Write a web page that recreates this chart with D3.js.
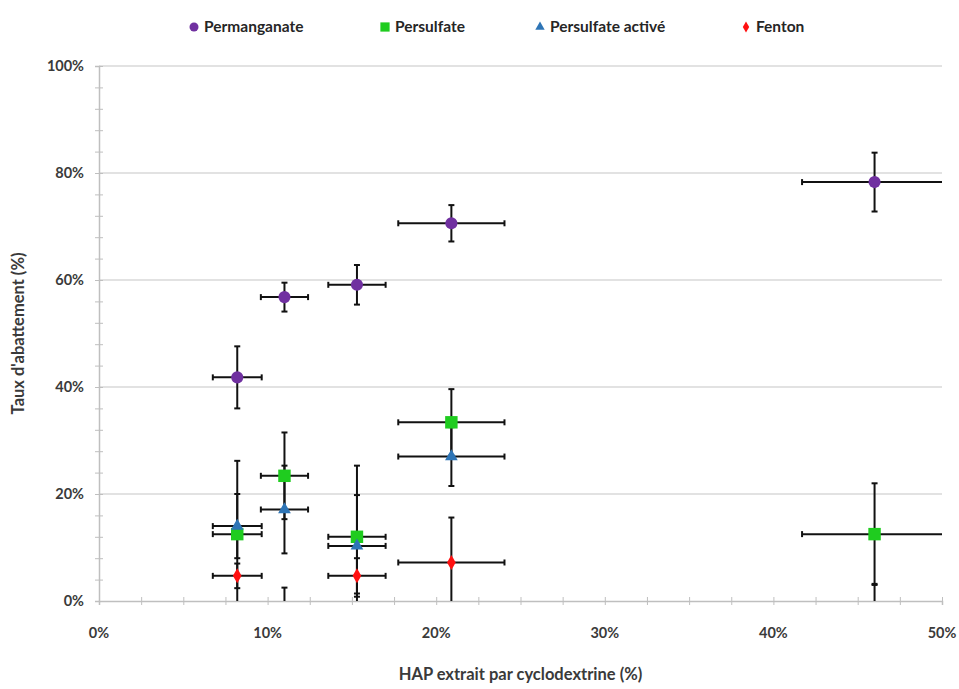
<!DOCTYPE html>
<html>
<head>
<meta charset="utf-8">
<script src="https://cdn.jsdelivr.net/npm/d3@7"></script>
<style>
	body { margin: 0; background: #fff; }
	text { font-family: Lato, "Open Sans", sans-serif; }
</style>
</head>
<body>
<div id="chart"></div>
<script>
// HAP extracted by cyclodextrin (%) and its error
const hapX = [8.2, 11.0, 15.3, 20.9, 46.0];
const hapXErr = [1.45, 1.4, 1.7, 3.15, 4.3];

// abatement rate (%) per oxidant, with error
const permanganate = [41.8, 56.8, 59.1, 70.6, 78.3];
const permanganateErr = [5.8, 2.7, 3.7, 3.4, 5.5];
const persulfate = [12.5, 23.4, 12.0, 33.4, 12.5];
const persulfateErr = [13.7, 8.1, 13.3, 6.2, 9.5];
const persulfateActive = [14.0, 17.1, 10.3, 27.0, null];
const persulfateActiveErr = [6.0, 8.2, 9.5, 5.5, null];
const fenton = [4.7, -2.0, 4.7, 7.2, -2.0];
const fentonErr = [2.3, 4.5, 3.3, 8.4, 5.2];

const seriesNames = ['Permanganate', 'Persulfate', 'Persulfate activé', 'Fenton'];
const xTicks = [0, 10, 20, 30, 40, 50];
const yTicks = [0, 20, 40, 60, 80, 100];

const width = 959, height = 689;
const margin = { left: 99, right: 17, top: 66, bottom: 88 };

let series = [
	{ name: seriesNames[0], values: permanganate, err: permanganateErr, color: '#7030a0', shape: d3.symbolCircle, size: 115 },
	{ name: seriesNames[1], values: persulfate, err: persulfateErr, color: '#1fcc1f', shape: d3.symbolSquare, size: 155 },
	{ name: seriesNames[2], values: persulfateActive, err: persulfateActiveErr, color: '#2e75b6', shape: d3.symbolTriangle, size: 70 },
	{ name: seriesNames[3], values: fenton, err: fentonErr, color: '#ff1010', shape: d3.symbolDiamond, size: 65 }
];

let svg = d3.select('#chart').append('svg')
	.attr('width', width)
	.attr('height', height);

let x = d3.scaleLinear().domain([0, 50]).range([margin.left, width - margin.right]);
let y = d3.scaleLinear().domain([0, 100]).range([height - margin.bottom, margin.top]);

svg.append('defs').append('clipPath').attr('id', 'plot')
	.append('rect')
	.attr('x', x(0)).attr('y', y(100))
	.attr('width', x(50) - x(0)).attr('height', y(0) - y(100));

// gridlines
svg.append('g').selectAll('line')
	.data(yTicks.filter(d => d > 0))
	.enter().append('line')
	.attr('x1', x(0)).attr('x2', x(50))
	.attr('y1', d => y(d)).attr('y2', d => y(d))
	.attr('stroke', '#d9d9d9')
	.attr('stroke-width', 1.5);

// axes
let xAxis = svg.append('g')
	.attr('transform', 'translate(0,' + y(0) + ')')
	.call(d3.axisBottom(x).tickValues(d3.range(0, 50.1, 2.5)).tickSize(4).tickFormat(''));
xAxis.selectAll('.tick line').attr('y1', -4).attr('stroke', '#bfbfbf');
xAxis.select('.domain').attr('stroke', '#bfbfbf').attr('stroke-width', 1.5);

let yAxis = svg.append('g')
	.attr('transform', 'translate(' + x(0) + ',0)')
	.call(d3.axisLeft(y).tickValues(d3.range(0, 100.1, 4)).tickSize(4).tickFormat(''));
yAxis.selectAll('.tick line').attr('x1', 4).attr('stroke', '#bfbfbf');
yAxis.select('.domain').attr('stroke', '#bfbfbf').attr('stroke-width', 1.5);

svg.append('g').selectAll('text')
	.data(xTicks)
	.enter().append('text')
	.attr('x', d => x(d))
	.attr('y', 638)
	.attr('text-anchor', 'middle')
	.attr('font-size', 14.5)
	.attr('font-weight', 'bold')
	.attr('fill', '#3a3a3a')
	.text(d => d + '%');

svg.append('g').selectAll('text')
	.data(yTicks)
	.enter().append('text')
	.attr('x', 84)
	.attr('y', d => y(d) + 5)
	.attr('text-anchor', 'end')
	.attr('font-size', 14.5)
	.attr('font-weight', 'bold')
	.attr('fill', '#3a3a3a')
	.text(d => d + '%');

svg.append('text')
	.attr('x', x(25))
	.attr('y', 680)
	.attr('text-anchor', 'middle')
	.attr('font-size', 16.5)
	.attr('font-weight', 'bold')
	.attr('fill', '#3a3a3a')
	.text('HAP extrait par cyclodextrine (%)');

svg.append('text')
	.attr('transform', 'translate(24,' + y(50) + ') rotate(-90)')
	.attr('text-anchor', 'middle')
	.attr('font-size', 16.5)
	.attr('font-weight', 'bold')
	.attr('fill', '#3a3a3a')
	.text("Taux d'abattement (%)");

// error bars
let bars = svg.append('g').attr('clip-path', 'url(#plot)');
let cap = 3;
series.forEach(s => {
	let pts = hapX.map((hx, i) => ({ x: hx, xe: hapXErr[i], y: s.values[i], ye: s.err[i] }))
		.filter(p => p.y != null);
	pts.forEach(p => {
		let g = bars.append('g').attr('stroke', '#111').attr('stroke-width', 2);
		g.append('line')
			.attr('x1', x(p.x)).attr('x2', x(p.x))
			.attr('y1', y(p.y - p.ye)).attr('y2', y(p.y + p.ye));
		g.append('line')
			.attr('x1', x(p.x - p.xe)).attr('x2', x(p.x + p.xe))
			.attr('y1', y(p.y)).attr('y2', y(p.y));
		[p.y - p.ye, p.y + p.ye].forEach(v => {
			g.append('line')
				.attr('x1', x(p.x) - cap).attr('x2', x(p.x) + cap)
				.attr('y1', y(v)).attr('y2', y(v));
		});
		[p.x - p.xe, p.x + p.xe].forEach(v => {
			g.append('line')
				.attr('x1', x(v)).attr('x2', x(v))
				.attr('y1', y(p.y) - cap).attr('y2', y(p.y) + cap);
		});
	});
});

// markers
let marks = svg.append('g').attr('clip-path', 'url(#plot)');
series.forEach(s => {
	let pts = hapX.map((hx, i) => ({ x: hx, y: s.values[i] })).filter(p => p.y != null);
	marks.append('g').selectAll('path')
		.data(pts)
		.enter().append('path')
		.attr('d', d3.symbol().type(s.shape).size(s.size))
		.attr('transform', d => 'translate(' + x(d.x) + ',' + y(d.y) + ')')
		.attr('fill', s.color);
});

// legend
let legendX = [194, 385, 540, 746];
let legend = svg.append('g');
series.forEach((s, i) => {
	legend.append('path')
		.attr('d', d3.symbol().type(s.shape).size(s.size * 0.55))
		.attr('transform', 'translate(' + legendX[i] + ',27)')
		.attr('fill', s.color);
	legend.append('text')
		.attr('x', legendX[i] + 10)
		.attr('y', 32)
		.attr('font-size', 15.5)
		.attr('font-weight', 'bold')
		.attr('fill', '#262626')
		.text(s.name);
});
</script>
</body>
</html>
